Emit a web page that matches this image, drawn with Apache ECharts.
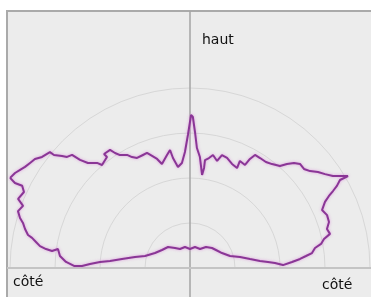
<!DOCTYPE html>
<html>
<head>
<meta charset="utf-8">
<script src="https://cdn.jsdelivr.net/npm/echarts@6/dist/echarts.min.js"></script>
<style>
  html, body { margin: 0; padding: 0; background: #fff; }
  #chart { width: 371px; height: 297px; }
</style>
</head>
<body>
<div id="chart"></div>
<script>
// polar pattern, [level, angle in degrees] (0 = right side, 90 = top)
const topEdge = [
  [201.2, 153.4], [199.1, 151.5], [196.2, 150.0], [193.5, 148.5], [191.4, 146.7],
  [189.5, 144.9], [185.0, 143.1], [181.8, 140.4], [176.8, 140.3], [170.1, 138.8],
  [165.7, 137.9], [163.4, 136.2], [154.2, 135.5], [146.4, 134.2], [140.3, 131.5],
  [135.5, 130.5], [138.6, 126.8], [142.8, 127.0], [142.6, 124.1], [137.3, 123.1],
  [132.9, 121.8], [129.4, 119.1], [125.2, 117.6], [122.1, 115.7], [122.4, 112.6],
  [122.8, 110.5], [118.3, 108.7], [113.9, 106.8], [107.7, 105.1], [115.3, 101.5],
  [119.7, 99.6], [111.3, 98.8], [101.7, 96.8], [105.3, 94.4], [116.1, 92.5],
  [133.0, 90.9], [153.0, 89.6], [151.0, 88.9], [136.1, 87.9], [120.2, 86.7],
  [111.4, 84.9], [93.8, 82.6], [101.0, 82.0], [109.0, 82.1], [111.6, 80.2],
  [115.3, 78.5], [110.4, 75.8], [117.4, 74.2], [116.1, 71.4], [112.2, 68.0],
  [110.5, 64.8], [118.1, 65.0], [116.8, 61.9], [124.4, 61.2], [130.4, 60.1],
  [130.4, 57.5], [130.4, 54.4], [132.4, 51.7], [136.0, 48.6], [142.2, 47.0],
  [147.8, 45.3], [151.4, 43.4], [151.0, 41.0], [154.3, 38.9], [160.0, 36.9],
  [164.5, 34.8], [170.0, 32.8], [176.8, 31.4], [182.8, 30.2]
];
const rightSide = [
  [173.9, 30.4], [168.3, 29.2], [162.4, 28.3], [156.5, 27.4], [150.3, 26.1],
  [144.2, 23.7], [146.9, 21.1], [146.4, 18.3], [142.4, 15.9], [144.1, 13.7],
  [137.1, 12.2], [133.2, 10.4], [126.6, 9.1], [122.9, 7.0], [116.6, 5.9],
  [110.4, 4.7], [102.2, 3.4], [93.0, 1.8]
];
const rearLobe = [
  [85.1, 3.4], [78.2, 4.4], [70.3, 5.7], [60.7, 8.5], [51.2, 12.4],
  [41.8, 16.7], [35.3, 25.1], [31.6, 34.7], [29.7, 42.3], [26.4, 52.7],
  [21.5, 62.2], [21.6, 76.6], [19.0, 90.0], [21.6, 103.4], [21.5, 117.8],
  [25.0, 126.9], [30.4, 136.3], [33.3, 147.3], [38.1, 156.8], [46.6, 165.1],
  [56.1, 168.7], [68.6, 172.5], [80.3, 175.0], [90.2, 176.2], [100.1, 177.7],
  [108.0, 178.9], [116.0, 179.0]
];
const leftSide = [
  [124.1, 177.2], [130.6, 174.7], [133.4, 171.8], [139.0, 173.0], [145.2, 172.5],
  [151.6, 171.7], [156.2, 170.4], [160.8, 169.2], [165.3, 168.5], [169.5, 166.7],
  [173.0, 164.9], [177.2, 163.6], [181.2, 161.7], [178.1, 159.6], [185.3, 158.1],
  [182.6, 155.4], [186.9, 153.9], [194.6, 154.1], [201.2, 153.4]
];
// rings drawn at 45..180, axis runs to 225 so the outer lobes are not cut
const rings = [45, 90, 135, 180];
const radiusMax = 225;
const topLabel = 'haut';
const sideLabel = 'côté';

const pattern = topEdge.concat(rightSide, rearLobe, leftSide);

const ringColor = '#d7d7d7';
// one colour per tick: 0, 45, 90, 135, 180, 225 (first and last hidden)
const ringColors = ['rgba(0,0,0,0)'].concat(rings.map(() => ringColor), ['rgba(0,0,0,0)']);

const chart = echarts.init(document.getElementById('chart'));
const labelFont = '14px "DejaVu Sans", sans-serif';

chart.setOption({
  backgroundColor: '#fff',
  animation: false,
  polar: {
    center: [190, 268],
    radius: [0, radiusMax]
  },
  angleAxis: {
    type: 'value',
    min: 0,
    max: 180,
    startAngle: 0,
    endAngle: 180,
    clockwise: false,
    axisLine: { show: false },
    axisTick: { show: false },
    axisLabel: { show: false },
    splitLine: { show: false }
  },
  radiusAxis: {
    type: 'value',
    min: 0,
    max: radiusMax,
    interval: rings[0],
    axisLine: { show: false },
    axisTick: { show: false },
    axisLabel: { show: false },
    splitLine: { show: true, lineStyle: { color: ringColors, width: 1 } }
  },
  graphic: [
    {
      type: 'rect',
      z: -10,
      shape: { x: 7, y: 11, width: 370, height: 292 },
      style: { fill: '#ececec', stroke: '#aaaaaa', lineWidth: 2 }
    },
    {
      type: 'line',
      z: 1,
      shape: { x1: 190, y1: 11, x2: 190, y2: 297 },
      style: { stroke: '#a4a4a4', lineWidth: 1.5 }
    },
    {
      type: 'line',
      z: 1,
      shape: { x1: 7, y1: 268, x2: 371, y2: 268 },
      style: { stroke: '#c4c4c4', lineWidth: 2 }
    },
    {
      type: 'text',
      z: 5,
      style: { text: topLabel, x: 202, y: 40, verticalAlign: 'middle', font: labelFont, fill: '#111' }
    },
    {
      type: 'text',
      z: 5,
      style: { text: sideLabel, x: 13, y: 282, verticalAlign: 'middle', font: labelFont, fill: '#111' }
    },
    {
      type: 'text',
      z: 5,
      style: { text: sideLabel, x: 322, y: 285, verticalAlign: 'middle', font: labelFont, fill: '#111' }
    }
  ],
  series: [
    {
      type: 'line',
      coordinateSystem: 'polar',
      data: pattern,
      showSymbol: false,
      clip: false,
      lineStyle: {
        color: '#8a3696',
        width: 2,
        shadowColor: 'rgba(215, 120, 215, 0.7)',
        shadowBlur: 3
      },
      z: 3
    }
  ]
});
</script>
</body>
</html>
